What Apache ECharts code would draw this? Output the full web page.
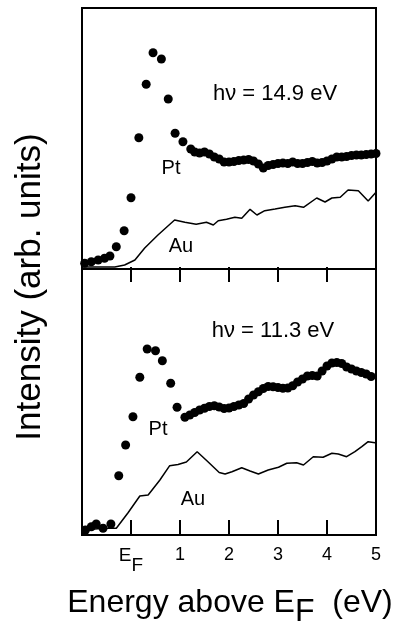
<!DOCTYPE html>
<html>
<head>
<meta charset="utf-8">
<script src="https://cdn.jsdelivr.net/npm/echarts@6.0.0/dist/echarts.min.js"></script>
<style>
	html, body { margin: 0; padding: 0; background: #fff; }
	#chart { width: 399px; height: 629px; }
</style>
</head>
<body>
<div id="chart"></div>
<script>
// energy above EF (eV) and intensity (arb. units)
var ptTopE = [-0.945, -0.81, -0.67, -0.54, -0.43, -0.30, -0.14, 0.0, 0.16, 0.31, 0.45, 0.62, 0.76, 0.90, 1.06, 1.22,
	1.3, 1.4, 1.5, 1.6, 1.7, 1.8, 1.9, 2.0, 2.1, 2.2, 2.3, 2.4, 2.5, 2.6, 2.7, 2.8, 2.9, 3.0, 3.1, 3.2,
	3.3, 3.4, 3.5, 3.6, 3.7, 3.8, 3.9, 4.0, 4.1, 4.2, 4.3, 4.4, 4.5, 4.6, 4.7, 4.8, 4.9, 5.0];
var ptTopI = [3.7, 5.3, 7, 8.7, 11, 20.3, 36.3, 69.3, 129.3, 182.7, 214.3, 208, 168, 133.7, 125.3, 118,
	115, 114, 115, 113, 110, 108, 105, 105, 105.5, 106.5, 107, 107.5, 106, 103, 99, 101.5, 102.5, 103.5, 104, 103.5,
	105, 103.5, 103.5, 104.5, 105.5, 104, 104.5, 106, 108, 110, 110, 110.5, 111.5, 112, 112, 112.5, 113, 113.5];

var auTopE = [-1.0, -0.33, -0.13, 0.08, 0.28, 0.55, 0.89, 1.10, 1.33, 1.54, 1.68, 1.78, 1.95, 2.12, 2.26,
	2.43, 2.57, 2.73, 2.94, 3.14, 3.35, 3.52, 3.79, 3.96, 4.10, 4.27, 4.43, 4.64, 4.84, 5.0];
var auTopI = [0, 0, 2, 7, 19, 32, 47, 44.7, 42.7, 44.7, 42, 46.3, 47.7, 49.7, 48.7,
	57.7, 52, 56.3, 58, 59.7, 61.3, 59.7, 69, 65, 69, 69.7, 77, 76.3, 66, 74.7];

var ptBotE = [-0.93, -0.81, -0.71, -0.57, -0.41, -0.25, -0.11, 0.04, 0.18, 0.33, 0.50, 0.64, 0.81, 0.94, 1.10,
	1.2, 1.3, 1.4, 1.5, 1.6, 1.7, 1.8, 1.9, 2.0, 2.1, 2.2, 2.3, 2.4, 2.5, 2.6, 2.7, 2.8, 2.9, 3.0, 3.1,
	3.2, 3.3, 3.4, 3.5, 3.6, 3.7, 3.8, 3.9, 4.0, 4.1, 4.2, 4.3, 4.4, 4.5, 4.6, 4.7, 4.8, 4.9];
var ptBotI = [5, 8.3, 11, 6.7, 11, 59.3, 90, 118.3, 157.7, 186, 184.3, 174.3, 151.7, 127.7, 117.7,
	120, 122.5, 125, 126.7, 128.5, 129.3, 128, 126.5, 127, 128.5, 130, 131.5, 136, 140, 143.3, 146.5, 148.5, 148.3, 147.5, 146.7,
	147, 149.3, 153, 156, 159, 159.5, 159, 164, 169, 172, 172.5, 171.5, 168, 166, 164, 162.5, 161, 158.5];

var auBotE = [-1.0, -0.81, -0.54, -0.30, -0.06, 0.18, 0.35, 0.59, 0.79, 0.96, 1.13, 1.35, 1.57, 1.80, 1.92, 2.06,
	2.26, 2.43, 2.60, 2.80, 3.01, 3.18, 3.38, 3.52, 3.72, 3.92, 4.10, 4.23, 4.40, 4.57, 4.71, 4.84, 4.98];
var auBotI = [3.3, 5.7, 6.7, 6.7, 22.3, 39, 40, 55, 69.3, 70.5, 73, 83.3, 73.3, 62.5, 61, 63.3,
	67.3, 64, 61, 65, 67.7, 71.7, 72.3, 70, 78.3, 77.7, 81.7, 81, 78.3, 83.3, 88.3, 93.3, 92.3];

var xTicks = [-1, 0, 1, 2, 3, 4, 5];

var font = '"Liberation Sans", Arial, Helvetica, sans-serif';

function pairs(xs, ys) {
	var out = [];
	for (var i = 0; i < xs.length; i++) {
		out.push([xs[i], ys[i]]);
	}
	return out;
}

function energyAxis(gridIndex, pos, labels) {
	return {
		type: 'value',
		gridIndex: gridIndex,
		position: pos,
		min: xTicks[0],
		max: xTicks[xTicks.length - 1],
		interval: 1,
		axisLine: { show: false },
		axisTick: { show: true, inside: true, length: 15, lineStyle: { color: '#000', width: 2 } },
		splitLine: { show: false },
		axisLabel: {
			show: labels,
			margin: 11,
			color: '#000',
			fontFamily: font,
			fontSize: 18,
			formatter: function(v) {
				if (v === 0) return '{e|E}{f|F}';
				if (v < 0) return '';
				return '' + v;
			},
			rich: {
				e: { fontSize: 19, fontFamily: font, color: '#000', padding: [0, 0, 10, 0] },
				f: { fontSize: 19, fontFamily: font, color: '#000', padding: [10, 0, 0, 0] }
			}
		}
	};
}

var gridStyle = { show: true, borderColor: '#000', borderWidth: 2, backgroundColor: 'transparent' };

var option = {
	animation: false,
	backgroundColor: '#fff',
	grid: [
		Object.assign({ left: 82, top: 8, width: 294, height: 261 }, gridStyle),
		Object.assign({ left: 82, top: 269, width: 294, height: 266 }, gridStyle)
	],
	xAxis: [
		energyAxis(0, 'top', false),
		energyAxis(1, 'bottom', true)
	],
	yAxis: [
		{ type: 'value', gridIndex: 0, min: -2, max: 259, show: false },
		{ type: 'value', gridIndex: 1, min: 0, max: 266, show: false }
	],
	series: [
		{
			name: 'Pt 14.9', type: 'scatter', xAxisIndex: 0, yAxisIndex: 0,
			symbolSize: 9, itemStyle: { color: '#000', opacity: 1 },
			data: pairs(ptTopE, ptTopI)
		},
		{
			name: 'Au 14.9', type: 'line', xAxisIndex: 0, yAxisIndex: 0,
			showSymbol: false, lineStyle: { color: '#000', width: 1.5 },
			data: pairs(auTopE, auTopI)
		},
		{
			name: 'Pt 11.3', type: 'scatter', xAxisIndex: 1, yAxisIndex: 1,
			symbolSize: 9, itemStyle: { color: '#000', opacity: 1 },
			data: pairs(ptBotE, ptBotI)
		},
		{
			name: 'Au 11.3', type: 'line', xAxisIndex: 1, yAxisIndex: 1,
			showSymbol: false, lineStyle: { color: '#000', width: 1.5 },
			data: pairs(auBotE, auBotI)
		}
	],
	graphic: [
		{ type: 'text', x: 275, y: 94, style: { text: 'hν = 14.9 eV', font: '22px ' + font, fill: '#000', align: 'center', verticalAlign: 'middle' } },
		{ type: 'text', x: 171, y: 168, style: { text: 'Pt', font: '20px ' + font, fill: '#000', align: 'center', verticalAlign: 'middle' } },
		{ type: 'text', x: 181, y: 246, style: { text: 'Au', font: '20px ' + font, fill: '#000', align: 'center', verticalAlign: 'middle' } },
		{ type: 'text', x: 273, y: 331, style: { text: 'hν = 11.3 eV', font: '22px ' + font, fill: '#000', align: 'center', verticalAlign: 'middle' } },
		{ type: 'text', x: 158, y: 429, style: { text: 'Pt', font: '20px ' + font, fill: '#000', align: 'center', verticalAlign: 'middle' } },
		{ type: 'text', x: 193, y: 499, style: { text: 'Au', font: '20px ' + font, fill: '#000', align: 'center', verticalAlign: 'middle' } },
		{
			type: 'text', x: 30, y: 287, rotation: Math.PI / 2,
			style: { text: 'Intensity (arb. units)', font: '35px ' + font, fill: '#000', align: 'center', verticalAlign: 'middle' }
		},
		{
			type: 'text', x: 230, y: 603,
			style: {
				text: 'Energy above {e|E}{f|F}  (eV)',
				font: '32px ' + font, fill: '#000', align: 'center', verticalAlign: 'middle',
				rich: {
					e: { font: '32px ' + font, fill: '#000' },
					f: { font: '32px ' + font, fill: '#000', padding: [18, 0, 0, 0] }
				}
			}
		}
	]
};

var myChart = echarts.init(document.getElementById('chart'));
myChart.setOption(option);
</script>
</body>
</html>
